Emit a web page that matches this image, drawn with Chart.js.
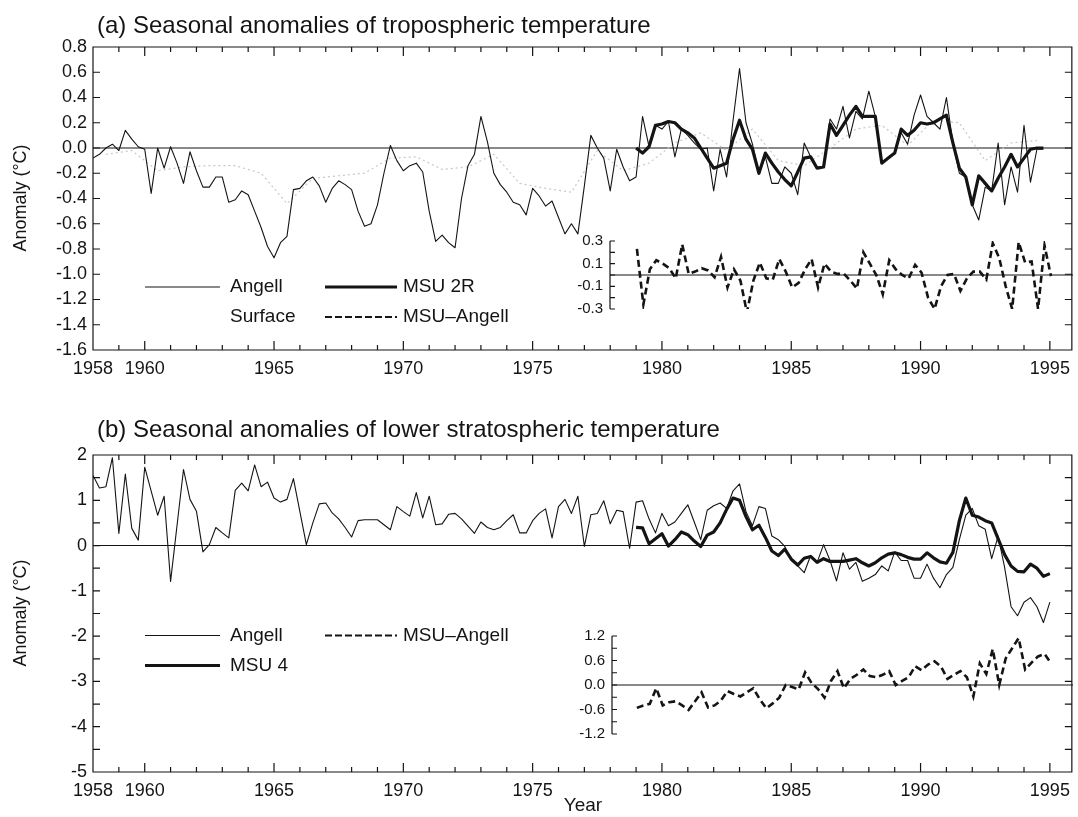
<!DOCTYPE html>
<html>
<head>
<meta charset="utf-8">
<title>Seasonal anomalies of tropospheric and lower stratospheric temperature</title>
<script src="https://cdn.jsdelivr.net/npm/chart.js@4.4.1/dist/chart.umd.min.js"></script>
<style>
  body { margin: 0; background: #fff; }
  #page { position: relative; width: 1078px; height: 817px; overflow: hidden;
          font-family: "Liberation Sans", Arial, Helvetica, sans-serif; color: #141414; }
  canvas { position: absolute; }
  .txt { position: absolute; white-space: nowrap; line-height: normal; }
  .title { font-size: 24px; left: 97px; }
  .leg { font-size: 19px; }
  .ytitle { font-size: 18px; transform: translate(-50%, -50%) rotate(-90deg); }
  svg { position: absolute; left: 0; top: 0; }
</style>
</head>
<body>
<div id="page">
  <canvas id="mainA" width="1078" height="400" style="left:0;top:0"></canvas>
  <canvas id="insetA" width="538" height="100" style="left:540px;top:225px"></canvas>
  <canvas id="mainB" width="1078" height="417" style="left:0;top:400px"></canvas>
  <canvas id="insetB" width="538" height="130" style="left:540px;top:620px"></canvas>

  <div class="txt title" style="top:11px">(a) Seasonal anomalies of tropospheric temperature</div>
  <div class="txt title" style="top:415px">(b) Seasonal anomalies of lower stratospheric temperature</div>

  <div class="txt ytitle" style="left:20px;top:198px">Anomaly (°C)</div>
  <div class="txt ytitle" style="left:20px;top:613px">Anomaly (°C)</div>
  <div class="txt leg" style="left:583px;top:794px;transform:translateX(-50%)">Year</div>

  <div class="txt leg" style="left:230px;top:275px">Angell</div>
  <div class="txt leg" style="left:403px;top:275px">MSU 2R</div>
  <div class="txt leg" style="left:230px;top:305px">Surface</div>
  <div class="txt leg" style="left:403px;top:305px">MSU–Angell</div>

  <div class="txt leg" style="left:230px;top:624px">Angell</div>
  <div class="txt leg" style="left:403px;top:624px">MSU–Angell</div>
  <div class="txt leg" style="left:230px;top:654px">MSU 4</div>

  <svg width="1078" height="817">
    <g stroke="#141414" fill="none">
      <line x1="145" y1="287" x2="220" y2="287" stroke-width="1.1"/>
      <line x1="325" y1="287" x2="397" y2="287" stroke-width="3.2"/>
      <line x1="325" y1="317" x2="397" y2="317" stroke-width="2.2" stroke-dasharray="7 3"/>
      <line x1="145" y1="635.5" x2="220" y2="635.5" stroke-width="1.1"/>
      <line x1="325" y1="635.5" x2="397" y2="635.5" stroke-width="2.2" stroke-dasharray="7 3"/>
      <line x1="145" y1="665.5" x2="220" y2="665.5" stroke-width="3.2"/>
    </g>
  </svg>
</div>

<script>
const INK = '#141414';
const FONT = '"Liberation Sans", Arial, Helvetica, sans-serif';
Chart.defaults.font.family = FONT;
Chart.defaults.color = INK;

// seasonal data, one value every quarter year
const STEP = 0.25;
const START_ANGELL = 1958;
const START_MSU = 1979;
const START_SURFACE = 1958.5;   // annual values, plotted mid-year

const X_MIN = 1958;
const X_MAX = 1995.85;
const xLabelYears = [1958, 1960, 1965, 1970, 1975, 1980, 1985, 1990, 1995];

// (a) troposphere
const angellTropo = [
  -0.08, -0.05, 0.00, 0.03,   -0.02, 0.14, 0.07, 0.01,
  -0.01, -0.36, 0.00, -0.16,  0.01, -0.12, -0.28, -0.03,
  -0.18, -0.31, -0.31, -0.23, -0.23, -0.43, -0.41, -0.34,
  -0.37, -0.50, -0.63, -0.78, -0.87, -0.75, -0.70, -0.33,
  -0.32, -0.26, -0.23, -0.30, -0.43, -0.32, -0.26, -0.29,
  -0.33, -0.50, -0.62, -0.60, -0.45, -0.20, 0.02, -0.10,
  -0.18, -0.14, -0.12, -0.19, -0.50, -0.74, -0.69, -0.75,
  -0.79, -0.40, -0.14, -0.05, 0.25, 0.05, -0.20, -0.29,
  -0.35, -0.43, -0.45, -0.53, -0.32, -0.38, -0.46, -0.42,
  -0.55, -0.68, -0.60, -0.68, -0.30, 0.10, 0.00, -0.08,
  -0.34, -0.01, -0.15, -0.26, -0.23, 0.25, 0.01, 0.18,
  0.15, 0.21, -0.07, 0.15,    0.10, 0.04, -0.01, 0.00,
  -0.34, -0.01, -0.23, 0.22,  0.63, 0.20, 0.03, -0.20,
  -0.07, -0.28, -0.28, -0.15, -0.20, -0.37, 0.04, -0.07,
  -0.15, -0.15, 0.23, 0.15,   0.33, 0.08, 0.29, 0.23,
  0.45, 0.25, -0.12, -0.08,   -0.04, 0.12, 0.03, 0.26,
  0.42, 0.25, 0.20, 0.15,     0.40, 0.04, -0.20, -0.23,
  -0.45, -0.57, -0.31, -0.34, 0.04, -0.45, -0.15, -0.35,
  0.18, -0.27, -0.01, -0.01
];
const msu2R = [
  0.00, -0.04, 0.01, 0.18,    0.19, 0.21, 0.20, 0.15,
  0.12, 0.08, 0.00, -0.08,    -0.16, -0.14, -0.12, 0.07,
  0.22, 0.07, -0.01, -0.20,   -0.04, -0.12, -0.19, -0.25,
  -0.30, -0.19, -0.08, -0.07, -0.16, -0.15, 0.19, 0.10,
  0.18, 0.26, 0.33, 0.25,     0.25, 0.25, -0.12, -0.08,
  -0.04, 0.15, 0.10, 0.14,    0.20, 0.19, 0.20, 0.23,
  0.26, 0.04, -0.16, -0.23,   -0.45, -0.22, -0.28, -0.34,
  -0.24, -0.15, -0.05, -0.15, -0.08, -0.01, 0.00, 0.00
];
const surfaceTropo = [
  -0.05, -0.02, -0.18, -0.15, -0.14, -0.14, -0.20, -0.44, -0.24, -0.22,
  -0.20, -0.08, -0.07, -0.17, -0.15, -0.05, -0.28, -0.32, -0.35, -0.02,
  -0.18, -0.12, 0.04, 0.12, -0.02, 0.15, -0.10, -0.14, 0.00, 0.15,
  0.18, 0.02, 0.22, 0.20, -0.10, 0.04, 0.06
];
const diffTropo = [
  0.23, -0.26, 0.05, 0.13,    0.10, 0.06, -0.03, 0.27,
  0.01, 0.03, 0.06, 0.04,     -0.02, 0.16, -0.11, 0.05,
  -0.05, -0.33, -0.05, 0.11,  -0.03, -0.04, 0.14, 0.03,
  -0.11, -0.07, 0.05, 0.14,   -0.11, 0.10, 0.03, 0.01,
  0.01, -0.05, -0.12, 0.20,   0.10, 0.00, -0.17, 0.13,
  0.05, 0.00, -0.03, 0.09,    0.02, -0.20, -0.30, -0.10,
  0.00, 0.01, -0.14, -0.03,   0.03, 0.03, -0.04, 0.28,
  0.15, -0.10, -0.30, 0.29,   0.11, 0.12, -0.30, 0.26,
  -0.01
];

// (b) lower stratosphere
const angellStrat = [
  1.55, 1.27, 1.30, 1.94,     0.27, 1.58, 0.38, 0.12,
  1.73, 1.20, 0.67, 1.09,     -0.79, 0.45, 1.68, 1.02,
  0.76, -0.14, 0.02, 0.40,    0.28, 0.17, 1.22, 1.38,
  1.21, 1.78, 1.30, 1.40,     1.05, 0.96, 1.02, 1.48,
  0.75, 0.02, 0.50, 0.92,     0.94, 0.72, 0.59, 0.40,
  0.19, 0.55, 0.57, 0.57,     0.57, 0.46, 0.35, 0.86,
  0.75, 0.65, 1.17, 0.61,     1.09, 0.46, 0.48, 0.69,
  0.71, 0.59, 0.43, 0.27,     0.52, 0.40, 0.35, 0.40,
  0.55, 0.68, 0.28, 0.28,     0.55, 0.71, 0.81, 0.17,
  0.86, 1.02, 0.71, 1.09,     -0.02, 0.68, 0.71, 0.99,
  0.48, 0.78, 0.75, -0.06,    0.96, 0.99, 0.59, 0.28,
  0.71, 0.44, 0.52, 0.71,     0.90, 0.52, 0.13, 0.78,
  0.88, 0.94, 0.82, 1.21,     1.36, 0.75, 0.44, 0.86,
  0.82, 0.21, 0.13, -0.02,    -0.33, -0.45, -0.60, -0.22,
  -0.37, 0.02, -0.33, -0.78,  -0.16, -0.52, -0.37, -0.79,
  -0.72, -0.64, -0.45, -0.56, -0.14, -0.33, -0.33, -0.72,
  -0.72, -0.41, -0.72, -0.93, -0.64, -0.48, 0.13, 0.67,
  0.82, 0.44, 0.36, -0.29,    0.21, -0.48, -1.35, -1.55,
  -1.25, -1.15, -1.35, -1.70, -1.25
];
const msu4 = [
  0.40, 0.39, 0.04, 0.15,     0.26, -0.01, 0.13, 0.30,
  0.24, 0.10, -0.02, 0.23,    0.30, 0.50, 0.80, 1.05,
  1.00, 0.64, 0.35, 0.45,     0.18, -0.12, -0.22, -0.08,
  -0.30, -0.43, -0.28, -0.24, -0.37, -0.29, -0.35, -0.35,
  -0.35, -0.32, -0.29, -0.38, -0.45, -0.38, -0.27, -0.19,
  -0.16, -0.20, -0.26, -0.30, -0.30, -0.16, -0.27, -0.36,
  -0.39, -0.15, 0.55, 1.05,   0.67, 0.63, 0.55, 0.50,
  0.15, -0.20, -0.45, -0.57,  -0.58, -0.41, -0.50, -0.68,
  -0.62
];
const diffStrat = [
  -0.56, -0.50, -0.46, -0.08, -0.50, -0.42, -0.40, -0.50,
  -0.61, -0.40, -0.18, -0.55, -0.50, -0.38, -0.15, -0.22,
  -0.28, -0.18, -0.08, -0.35, -0.57, -0.45, -0.31, 0.00,
  -0.05, -0.11, 0.31, 0.05,   -0.10, -0.31, 0.10, 0.34,
  -0.08, 0.15, 0.25, 0.38,    0.22, 0.19, 0.25, 0.34,
  0.00, 0.10, 0.19, 0.46,     0.36, 0.50, 0.58, 0.45,
  0.15, 0.25, 0.34, 0.19,     -0.28, 0.53, 0.27, 0.88,
  0.00, 0.65, 0.90, 1.15,     0.38, 0.55, 0.70, 0.76,
  0.53
];

// axis labels and tick marks
const yLabelsA = [0.8, 0.6, 0.4, 0.2, 0, -0.2, -0.4, -0.6, -0.8, -1.0, -1.2, -1.4, -1.6];
const yLabelsB = [2, 1, 0, -1, -2, -3, -4, -5];
const yMarksB = [2, 1.5, 1, 0.5, 0, -0.5, -1, -1.5, -2, -2.5, -3, -3.5, -4, -4.5, -5];
const insetLabelsA = [0.3, 0.1, -0.1, -0.3];
const insetMarksA = [0.3, 0.2, 0.1, 0, -0.1, -0.2, -0.3];
const insetLabelsB = [1.2, 0.6, 0, -0.6, -1.2];
const insetMarksB = [1.2, 0.9, 0.6, 0.3, 0, -0.3, -0.6, -0.9, -1.2];

function seasonPoints(values, start) {
  return values.map((v, i) => ({ x: start + i * STEP, y: v }));
}
function yearPoints(values, start) {
  return values.map((v, i) => ({ x: start + i, y: v }));
}
function fmt1(v) {
  return (Math.abs(v) < 1e-9 ? 0 : v).toFixed(1);
}

function line(data, width, order, extra) {
  return Object.assign({
    data, order,
    borderColor: INK, borderWidth: width,
    pointRadius: 0, tension: 0, fill: false,
    borderJoinStyle: 'round'
  }, extra || {});
}

// box, inward ticks and the zero line, all placed with the chart's scales
const framePlugin = {
  id: 'frame',
  beforeDatasetsDraw(chart) {
    const { ctx, chartArea: a, scales: { y } } = chart;
    const y0 = y.getPixelForValue(0);
    ctx.save();
    ctx.strokeStyle = INK;
    ctx.lineWidth = 1.1;
    ctx.beginPath();
    ctx.moveTo(a.left, y0);
    ctx.lineTo(a.right, y0);
    ctx.stroke();
    ctx.restore();
  },
  afterDatasetsDraw(chart, args, o) {
    const { ctx, chartArea: a, scales: { x, y } } = chart;
    ctx.save();
    ctx.strokeStyle = INK;
    ctx.lineWidth = 1.2;
    ctx.beginPath();
    if (o.box) {
      ctx.rect(a.left, a.top, a.right - a.left, a.bottom - a.top);
      for (let yr = Math.ceil(x.min); yr <= x.max; yr++) {
        const px = x.getPixelForValue(yr);
        const len = o.majors.includes(yr) ? 9 : 5;
        ctx.moveTo(px, a.bottom); ctx.lineTo(px, a.bottom - len);
        ctx.moveTo(px, a.top); ctx.lineTo(px, a.top + len);
      }
      o.marks.forEach(v => {
        const py = y.getPixelForValue(v);
        ctx.moveTo(a.left, py); ctx.lineTo(a.left + 7, py);
        ctx.moveTo(a.right, py); ctx.lineTo(a.right - 7, py);
      });
    } else {
      ctx.moveTo(a.left, y.getPixelForValue(y.max));
      ctx.lineTo(a.left, y.getPixelForValue(y.min));
      o.marks.forEach(v => {
        const py = y.getPixelForValue(v);
        ctx.moveTo(a.left, py); ctx.lineTo(a.left + 5, py);
      });
    }
    ctx.stroke();
    ctx.restore();
  }
};
Chart.register(framePlugin);

function mainChart(id, datasets, yMin, yMax, yLabels, yMarks, yFmt, padTop, xHeight) {
  return new Chart(document.getElementById(id), {
    type: 'line',
    data: { datasets },
    options: {
      responsive: false, animation: false, devicePixelRatio: 1,
      layout: { padding: { top: padTop, right: 5, left: 0, bottom: 0 } },
      plugins: {
        legend: { display: false }, tooltip: { enabled: false },
        frame: { box: true, marks: yMarks, majors: xLabelYears }
      },
      scales: {
        x: {
          type: 'linear', min: X_MIN, max: X_MAX,
          grid: { display: false, drawTicks: false }, border: { display: false },
          afterBuildTicks: s => { s.ticks = xLabelYears.map(v => ({ value: v })); },
          afterFit: s => { s.height = xHeight; },
          ticks: { autoSkip: false, maxRotation: 0, padding: 8, font: { size: 18 },
                   callback: v => String(v) }
        },
        y: {
          min: yMin, max: yMax,
          grid: { display: false, drawTicks: false }, border: { display: false },
          afterBuildTicks: s => { s.ticks = yLabels.map(v => ({ value: v })); },
          afterFit: s => { s.width = 93; },
          ticks: { padding: 6, font: { size: 18 }, callback: yFmt }
        }
      }
    }
  });
}

function insetChart(id, datasets, xMin, yMin, yMax, yLabels, yMarks, axisWidth, padTop, padBottom) {
  return new Chart(document.getElementById(id), {
    type: 'line',
    data: { datasets },
    options: {
      responsive: false, animation: false, devicePixelRatio: 1,
      layout: { padding: { top: padTop, right: 5, left: 0, bottom: padBottom } },
      plugins: {
        legend: { display: false }, tooltip: { enabled: false },
        frame: { box: false, marks: yMarks, majors: [] }
      },
      scales: {
        x: { type: 'linear', min: xMin, max: X_MAX, display: false },
        y: {
          min: yMin, max: yMax,
          grid: { display: false, drawTicks: false }, border: { display: false },
          afterBuildTicks: s => { s.ticks = yLabels.map(v => ({ value: v })); },
          afterFit: s => { s.width = axisWidth; },
          ticks: { padding: 7, font: { size: 15 }, callback: fmt1 }
        }
      }
    }
  });
}

const dashStyle = { borderDash: [7, 4], borderWidth: 2.6, borderCapStyle: 'butt', borderJoinStyle: 'miter' };

mainChart('mainA', [
  line(seasonPoints(msu2R, START_MSU), 3.2, 0),
  line(seasonPoints(angellTropo, START_ANGELL), 1.1, 1),
  line(yearPoints(surfaceTropo, START_SURFACE), 1.2, 2, { borderColor: '#c8c8c8', borderDash: [2, 3] })
], -1.6, 0.8, yLabelsA, yLabelsA, fmt1, 47, 50);

insetChart('insetA', [
  line(seasonPoints(diffTropo, START_MSU), 2.6, 0, dashStyle)
], 1977.96, -0.3, 0.3, insetLabelsA, insetMarksA, 70, 13, 11);

mainChart('mainB', [
  line(seasonPoints(msu4, START_MSU), 3.2, 0),
  line(seasonPoints(angellStrat, START_ANGELL), 1.1, 1)
], -5, 2, yLabelsB, yMarksB, v => String(v), 55, 45);

insetChart('insetB', [
  line(seasonPoints(diffStrat, START_MSU), 2.6, 0, dashStyle)
], 1978.04, -1.2, 1.2, insetLabelsB, insetMarksB, 72, 13, 12);
</script>
</body>
</html>
